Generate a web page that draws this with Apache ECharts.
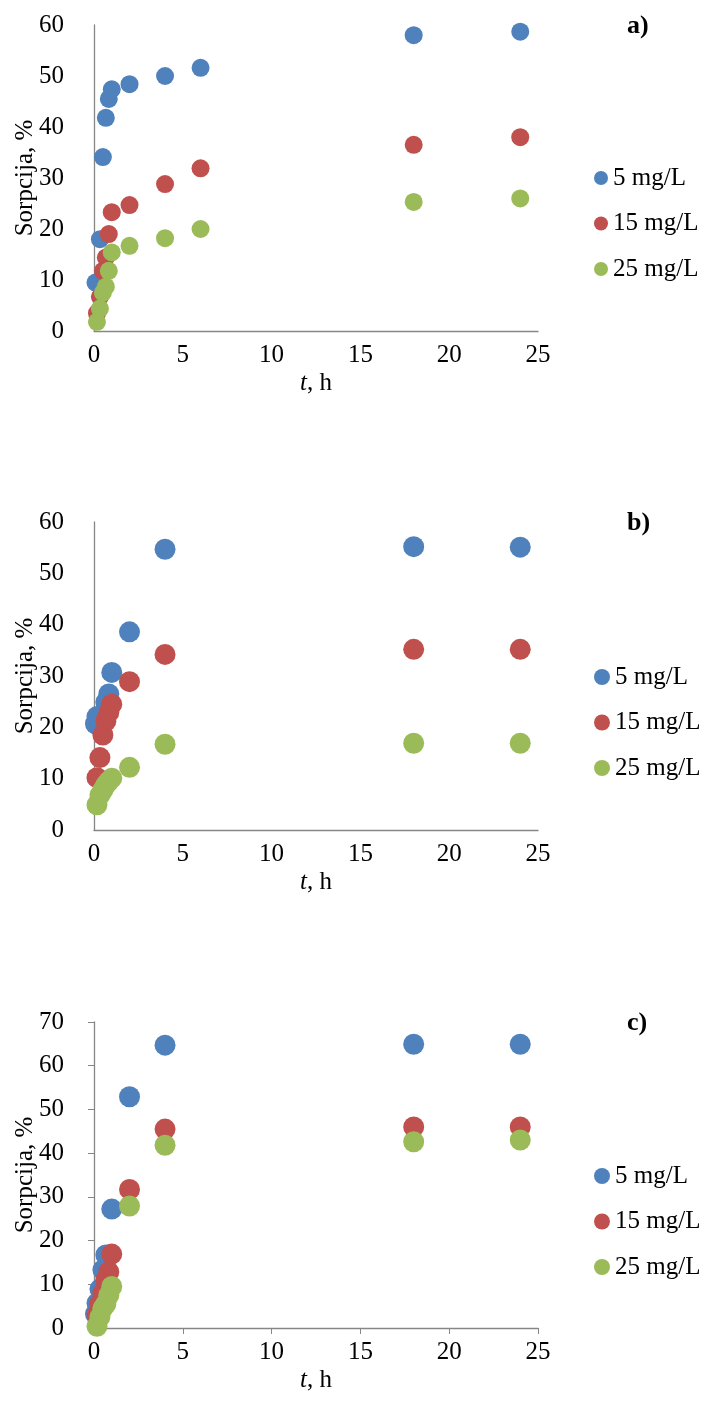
<!DOCTYPE html>
<html><head><meta charset="utf-8">
<script src="https://cdn.jsdelivr.net/npm/echarts@6/dist/echarts.min.js"></script>
<style>html,body{margin:0;padding:0;background:#fff}#c{width:706px;height:1411px}</style>
</head><body><div id="c"></div>
<script>
var seriesNames = ['5 mg/L', '15 mg/L', '25 mg/L'];
var colors = ['#4F81BD', '#C0504D', '#9BBB59'];
var panelLabels = ['a)', 'b)', 'c)'];
var xTicks = [0, 5, 10, 15, 20, 25];
var yTicksA = [0, 10, 20, 30, 40, 50, 60];
var yTicksB = [0, 10, 20, 30, 40, 50, 60];
var yTicksC = [0, 10, 20, 30, 40, 50, 60, 70];

var tA = [0.083, 0.167, 0.333, 0.5, 0.667, 0.833, 1, 2, 4, 6, 18, 24];
var blueA = [9.5, null, 18.0, 34.1, 41.8, 45.5, 47.4, 48.4, 50.0, 51.6, 58.0, 58.7];
var redA = [null, 3.5, 6.7, 11.8, 14.4, 19.0, 23.3, 24.7, 28.8, 31.9, 36.5, 38.0];
var greenA = [null, 1.8, 4.4, 7.5, 8.7, 11.8, 15.4, 16.7, 18.2, 20.0, 25.3, 26.0];

var tB = [0.083, 0.167, 0.333, 0.5, 0.667, 0.833, 1, 2, 4, 18, 24];
var blueB = [20.7, 22.1, null, null, 24.9, 26.5, 30.7, 38.6, 54.7, 55.2, 55.1];
var redB = [null, 10.2, 14.1, 18.5, 21.2, 22.9, 24.5, 28.9, 34.2, 35.2, 35.2];
var greenB = [null, 4.9, 6.8, 7.8, 8.8, 9.5, 10.1, 12.2, 16.7, 16.9, 16.9];

var tC = [0.083, 0.167, 0.333, 0.5, 0.667, 0.833, 1, 2, 4, 18, 24];
var blueC = [3.2, 5.7, 8.9, 13.3, 16.7, null, 27.2, 52.9, 64.7, 64.9, 64.9];
var redC = [null, 3.0, 5.5, 8.0, 11.0, 12.8, 16.9, 31.7, 45.5, 46.0, 46.0];
var greenC = [null, 0.4, 2.5, 4.5, 5.5, 7.5, 9.5, 27.9, 41.8, 42.6, 43.0];

var panels = [
  {t: tA, vals: [blueA, redA, greenA], yTicks: yTicksA, top: 25, height: 306, ticks: false, sym: 18, legTop: 160, legIcon: 14},
  {t: tB, vals: [blueB, redB, greenB], yTicks: yTicksB, top: 522, height: 308, ticks: false, sym: 21, legTop: 659, legIcon: 16},
  {t: tC, vals: [blueC, redC, greenC], yTicks: yTicksC, top: 1022, height: 306, ticks: true, sym: 21, legTop: 1158, legIcon: 16}
];

var font = 'Liberation Serif';
var fs = 25;
var option = {animation: false, grid: [], xAxis: [], yAxis: [], series: [], legend: [], title: []};
panels.forEach(function (p, i) {
  option.grid.push({left: 94, width: 444, top: p.top, height: p.height, containLabel: false, outerBoundsMode: 'none'});
  var axisLine = {show: true, lineStyle: {color: '#868686', width: 1.3}};
  option.xAxis.push({
    gridIndex: i, type: 'value', min: xTicks[0], max: xTicks[xTicks.length - 1], interval: 5,
    axisLine: axisLine, axisTick: {show: p.ticks, length: 6, lineStyle: {color: '#868686'}},
    splitLine: {show: false},
    axisLabel: {color: '#000', fontFamily: font, fontSize: fs, margin: 12},
    name: '{i|t}, h', nameLocation: 'middle', nameGap: 40, nameMoveOverlap: false,
    nameTextStyle: {color: '#000', fontFamily: font, fontSize: fs, rich: {i: {fontStyle: 'italic', fontFamily: font, fontSize: fs, color: '#000'}}}
  });
  option.yAxis.push({
    gridIndex: i, type: 'value', min: 0, max: p.yTicks[p.yTicks.length - 1], interval: 10,
    axisLine: axisLine, axisTick: {show: p.ticks, length: 6, lineStyle: {color: '#868686'}},
    splitLine: {show: false},
    axisLabel: {color: '#000', fontFamily: font, fontSize: fs, margin: 30},
    name: 'Sorpcija, %', nameLocation: 'middle', nameGap: 56, nameRotate: 90, nameMoveOverlap: false,
    nameTextStyle: {color: '#000', fontFamily: font, fontSize: fs}
  });
  p.vals.forEach(function (v, k) {
    var data = [];
    p.t.forEach(function (t, j) { if (v[j] !== null) data.push([t, v[j]]); });
    option.series.push({
      type: 'scatter', name: seriesNames[k], xAxisIndex: i, yAxisIndex: i,
      symbol: 'circle', symbolSize: p.sym, data: data,
      itemStyle: {color: colors[k], opacity: 1}
    });
  });
  option.legend.push({
    data: seriesNames.map(function (n) { return {name: n, icon: 'circle'}; }),
    orient: 'vertical', left: 589, top: p.legTop, itemWidth: p.legIcon, itemHeight: p.legIcon,
    itemGap: 19.5, selectedMode: false,
    textStyle: {color: '#000', fontFamily: font, fontSize: fs, lineHeight: 26}
  });
  option.title.push({
    text: panelLabels[i], left: 622, top: p.top - 17,
    textStyle: {color: '#000', fontFamily: font, fontSize: 26, fontWeight: 'bold'}
  });
});
var chart = echarts.init(document.getElementById('c'), null, {renderer: 'canvas'});
chart.setOption(option);
</script></body></html>
